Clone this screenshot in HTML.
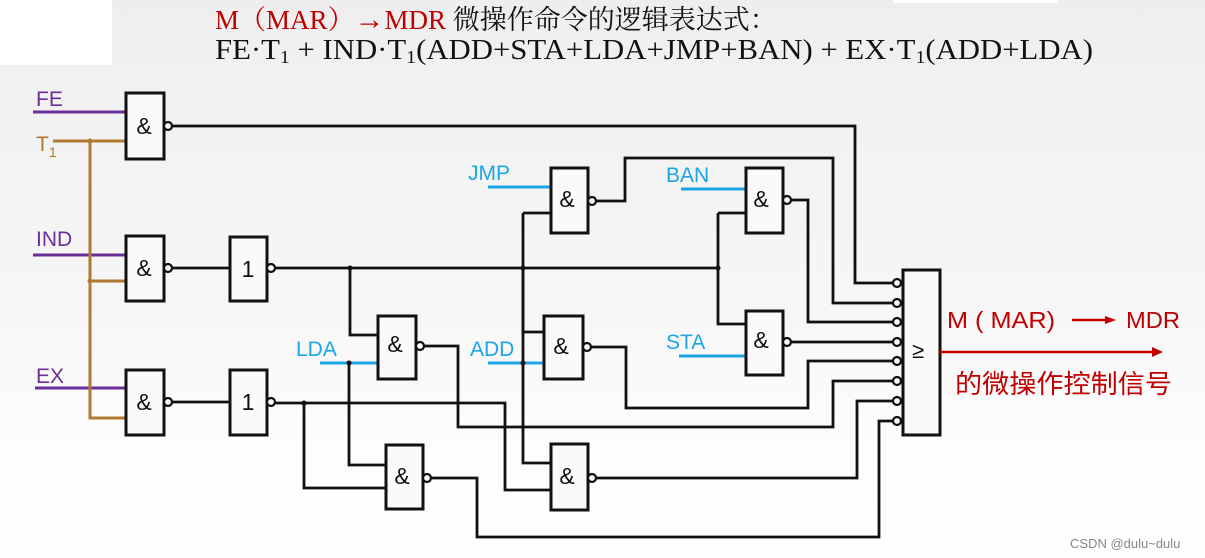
<!DOCTYPE html>
<html><head><meta charset="utf-8"><style>
html,body{margin:0;padding:0;}
body{width:1205px;height:558px;overflow:hidden;background:linear-gradient(#eeeeee 0px,#f1f1f1 70px,#f6f6f6 300px,#fdfdfd 450px,#fefefe 558px);}
svg{display:block}
</style></head><body>
<svg width="1205" height="558" viewBox="0 0 1205 558" xmlns="http://www.w3.org/2000/svg">
<rect x="0" y="0" width="112" height="65" fill="#ffffff"/>
<rect x="893" y="0" width="164" height="3" fill="#ffffff"/>
<text x="215" y="29" font-family="Liberation Serif, Noto Serif CJK SC, serif" font-size="27" fill="#c00000">M（MAR）<tspan font-size="30">→</tspan>MDR<tspan fill="#111"> 微操作命令的逻辑表达式：</tspan></text>
<text x="215" y="59" font-family="Liberation Serif, serif" font-size="28" fill="#111" textLength="878" lengthAdjust="spacingAndGlyphs">FE·T<tspan font-size="18" dy="4">1</tspan><tspan dy="-4"> + IND·T</tspan><tspan font-size="18" dy="4">1</tspan><tspan dy="-4">(ADD+STA+LDA+JMP+BAN) + EX·T</tspan><tspan font-size="18" dy="4">1</tspan><tspan dy="-4">(ADD+LDA)</tspan></text>

<g font-family="Liberation Sans, sans-serif" font-size="21">
<text x="36" y="106" fill="#6b2f9a">FE</text>
<text x="36" y="151" fill="#b07a30">T<tspan font-size="14" dy="6">1</tspan></text>
<text x="36" y="246" fill="#6b2f9a">IND</text>
<text x="36" y="383" fill="#6b2f9a">EX</text>
<text x="468" y="180" fill="#1aa6e6">JMP</text>
<text x="666" y="182" fill="#1aa6e6">BAN</text>
<text x="296" y="356" fill="#1aa6e6">LDA</text>
<text x="470" y="356" fill="#1aa6e6">ADD</text>
<text x="666" y="349" fill="#1aa6e6">STA</text>
</g>

<g stroke="#6b2f9a" stroke-width="3" fill="none">
<line x1="33" y1="112" x2="126" y2="112"/>
<line x1="33" y1="255" x2="126" y2="255"/>
<line x1="35" y1="388" x2="126" y2="388"/>
</g>
<g stroke="#b07a30" stroke-width="3" fill="none">
<polyline points="53,141 126,141"/>
<polyline points="90,141 90,418 126,418"/>
<line x1="90" y1="281" x2="126" y2="281"/>
</g>
<circle cx="90" cy="141" r="2.5" fill="#b07a30"/>
<circle cx="90" cy="281" r="2.5" fill="#b07a30"/>
<g stroke="#1aa6e6" stroke-width="3" fill="none">
<line x1="488" y1="187" x2="551" y2="187"/>
<line x1="681" y1="189" x2="746" y2="189"/>
<line x1="320" y1="363" x2="378" y2="363"/>
<line x1="488" y1="363" x2="544" y2="363"/>
<line x1="679" y1="356" x2="746" y2="356"/>
</g>

<g stroke="#111" stroke-width="2.8" fill="none">
<polyline points="172,126 855,126 855,283 893,283"/>
<line x1="172" y1="268" x2="230" y2="268"/>
<line x1="275" y1="268" x2="718" y2="268"/>
<line x1="172" y1="402" x2="230" y2="402"/>
<polyline points="275,403 505,403 505,490 551,490"/>
<polyline points="304,403 304,488 385,488"/>
<polyline points="350,268 350,335 378,335"/>
<polyline points="349,363 349,465 385,465"/>
<polyline points="523,268 523,332 544,332"/>
<polyline points="523,213 523,463 551,463"/>
<line x1="523" y1="213" x2="551" y2="213"/>
<polyline points="718,213 746,213"/>
<polyline points="718,213 718,324 746,324"/>
<polyline points="596,201 625,201 625,158 833,158 833,303 893,303"/>
<polyline points="791,200 808,200 808,322 893,322"/>
<line x1="791" y1="342" x2="893" y2="342"/>
<polyline points="591,347 626,347 626,408 808,408 808,361 893,361"/>
<polyline points="424,346 458,346 458,427 833,427 833,381 893,381"/>
<polyline points="596,478 857,478 857,401 893,401"/>
<polyline points="431,478 477,478 477,537 879,537 879,421 893,421"/>
</g>
<g fill="#111">
<circle cx="350" cy="268" r="2.5"/><circle cx="523" cy="268" r="2.5"/><circle cx="718" cy="268" r="2.5"/>
<circle cx="304" cy="403" r="2.5"/><circle cx="349" cy="363" r="2.5"/><circle cx="523" cy="363" r="2.5"/>
</g>

<g stroke="#111" stroke-width="3" fill="#fafafa">
<rect x="126" y="93" width="38" height="66"/>
<rect x="126" y="236" width="38" height="65"/>
<rect x="126" y="370" width="38" height="65"/>
<rect x="230" y="237" width="37" height="64"/>
<rect x="230" y="370" width="37" height="65"/>
<rect x="551" y="168" width="37" height="65"/>
<rect x="746" y="168" width="37" height="65"/>
<rect x="378" y="316" width="38" height="63"/>
<rect x="544" y="316" width="39" height="63"/>
<rect x="746" y="311" width="37" height="64"/>
<rect x="386" y="445" width="37" height="64"/>
<rect x="551" y="444" width="37" height="66"/>
<rect x="903" y="270" width="37" height="165"/>
</g>
<g stroke="#111" stroke-width="2.2" fill="#fafafa">
<circle cx="168" cy="126" r="4"/><circle cx="168" cy="268" r="4"/><circle cx="168" cy="402" r="4"/>
<circle cx="271" cy="268" r="4"/><circle cx="271" cy="402" r="4"/>
<circle cx="592" cy="201" r="4"/><circle cx="787" cy="200" r="4"/>
<circle cx="420" cy="346" r="4"/><circle cx="587" cy="347" r="4"/><circle cx="787" cy="342" r="4"/>
<circle cx="427" cy="478" r="4"/><circle cx="592" cy="478" r="4"/>
<circle cx="897" cy="283" r="4"/><circle cx="897" cy="303" r="4"/><circle cx="897" cy="322" r="4"/><circle cx="897" cy="342" r="4"/>
<circle cx="897" cy="361" r="4"/><circle cx="897" cy="381" r="4"/><circle cx="897" cy="401" r="4"/><circle cx="897" cy="421" r="4"/>
</g>
<g font-family="Liberation Sans, sans-serif" font-size="23" fill="#111" text-anchor="middle">
<text x="144" y="134">&amp;</text><text x="144" y="276">&amp;</text><text x="144" y="410">&amp;</text>
<text x="248" y="277">1</text><text x="248" y="410">1</text>
<text x="567" y="207">&amp;</text><text x="761" y="207">&amp;</text>
<text x="395" y="352">&amp;</text><text x="561" y="354">&amp;</text><text x="761" y="348">&amp;</text>
<text x="402" y="484">&amp;</text><text x="567" y="484">&amp;</text>
<text x="918" y="358" font-size="22">≥</text>
</g>

<line x1="940" y1="352" x2="1155" y2="352" stroke="#c00000" stroke-width="2.5"/>
<polygon points="1163,352 1152,347 1152,357" fill="#c00000"/>
<g font-family="Liberation Sans, Noto Sans CJK SC, sans-serif" fill="#c00000" font-size="23">
<text x="947" y="328" textLength="108" lengthAdjust="spacingAndGlyphs">M ( MAR)</text>
<line x1="1072" y1="320" x2="1107" y2="320" stroke="#c00000" stroke-width="2.5"/>
<polygon points="1116,320 1105,316 1105,324" fill="#c00000"/>
<text x="1126" y="328" textLength="54" lengthAdjust="spacingAndGlyphs">MDR</text>
<text x="955" y="393" font-size="26" textLength="217" lengthAdjust="spacingAndGlyphs">的微操作控制信号</text>
</g>
<text x="1070" y="548" font-family="Liberation Sans, sans-serif" font-size="13" fill="#888">CSDN @dulu~dulu</text>
</svg>
</body></html>
